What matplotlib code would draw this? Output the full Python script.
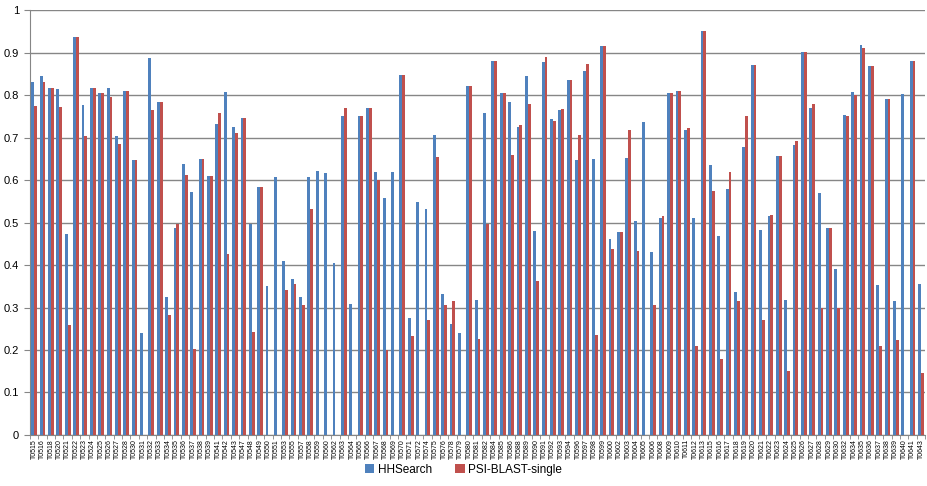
import numpy as np
import matplotlib
matplotlib.use("Agg")
import matplotlib.pyplot as plt
from matplotlib.ticker import FixedLocator

plt.rcParams["font.family"] = ["Liberation Sans", "DejaVu Sans"]

targets = ["T0515", "T0516", "T0518", "T0520", "T0521", "T0522", "T0523", "T0524",
           "T0525", "T0526", "T0527", "T0528", "T0530", "T0531", "T0532", "T0533",
           "T0534", "T0535", "T0536", "T0537", "T0538", "T0539", "T0541", "T0542",
           "T0543", "T0547", "T0548", "T0549", "T0550", "T0551", "T0553", "T0555",
           "T0557", "T0558", "T0559", "T0560", "T0562", "T0563", "T0564", "T0565",
           "T0566", "T0567", "T0568", "T0569", "T0570", "T0571", "T0572", "T0574",
           "T0575", "T0576", "T0578", "T0579", "T0580", "T0581", "T0582", "T0584",
           "T0585", "T0586", "T0588", "T0589", "T0590", "T0591", "T0592", "T0593",
           "T0594", "T0596", "T0597", "T0598", "T0599", "T0600", "T0602", "T0603",
           "T0604", "T0605", "T0606", "T0608", "T0609", "T0610", "T0611", "T0612",
           "T0613", "T0615", "T0616", "T0617", "T0618", "T0619", "T0620", "T0621",
           "T0622", "T0623", "T0624", "T0625", "T0626", "T0627", "T0628", "T0629",
           "T0630", "T0632", "T0634", "T0635", "T0636", "T0637", "T0638", "T0639",
           "T0640", "T0641", "T0643"]

hhsearch = [0.830, 0.845, 0.817, 0.815, 0.473, 0.937, 0.776, 0.817,
            0.805, 0.817, 0.703, 0.810, 0.648, 0.240, 0.888, 0.783,
            0.325, 0.487, 0.637, 0.572, 0.650, 0.610, 0.733, 0.808,
            0.726, 0.746, 0.497, 0.584, 0.351, 0.607, 0.410, 0.367,
            0.325, 0.607, 0.621, 0.617, 0.405, 0.750, 0.308, 0.750,
            0.770, 0.618, 0.558, 0.619, 0.848, 0.275, 0.549, 0.531,
            0.707, 0.333, 0.262, 0.240, 0.822, 0.318, 0.757, 0.880,
            0.805, 0.785, 0.725, 0.845, 0.480, 0.878, 0.745, 0.765,
            0.835, 0.648, 0.858, 0.650, 0.915, 0.462, 0.477, 0.652,
            0.503, 0.737, 0.430, 0.510, 0.805, 0.810, 0.718, 0.510,
            0.950, 0.635, 0.468, 0.580, 0.337, 0.678, 0.870, 0.482,
            0.515, 0.657, 0.318, 0.682, 0.902, 0.770, 0.570, 0.487,
            0.390, 0.753, 0.808, 0.918, 0.868, 0.353, 0.790, 0.315,
            0.802, 0.880, 0.355]

psiblast = [0.775, 0.830, 0.817, 0.773, 0.260, 0.937, 0.703, 0.817,
            0.805, 0.795, 0.685, 0.810, 0.648, 0.000, 0.765, 0.783,
            0.282, 0.497, 0.612, 0.203, 0.650, 0.610, 0.758, 0.425,
            0.710, 0.746, 0.243, 0.584, 0.000, 0.000, 0.341, 0.356,
            0.306, 0.533, 0.000, 0.000, 0.000, 0.770, 0.000, 0.750,
            0.770, 0.600, 0.200, 0.000, 0.848, 0.232, 0.000, 0.270,
            0.655, 0.305, 0.316, 0.000, 0.822, 0.227, 0.497, 0.880,
            0.805, 0.660, 0.730, 0.780, 0.362, 0.890, 0.738, 0.768,
            0.835, 0.707, 0.873, 0.235, 0.915, 0.438, 0.477, 0.718,
            0.433, 0.000, 0.305, 0.515, 0.805, 0.810, 0.722, 0.210,
            0.950, 0.574, 0.180, 0.618, 0.316, 0.750, 0.870, 0.270,
            0.518, 0.657, 0.150, 0.693, 0.902, 0.780, 0.300, 0.487,
            0.300, 0.750, 0.800, 0.912, 0.868, 0.210, 0.790, 0.223,
            0.000, 0.880, 0.145]

y_ticks = [0, 0.1, 0.2, 0.3, 0.4, 0.5, 0.6, 0.7, 0.8, 0.9, 1]
y_labels = ["0", "0.1", "0.2", "0.3", "0.4", "0.5", "0.6", "0.7", "0.8", "0.9", "1"]

BLUE = "#4F81BD"
RED = "#C0504D"
GRID = "#868686"

x = np.arange(len(targets))
w = 0.34

fig = plt.figure(figsize=(9.27, 4.86), dpi=100)
ax = fig.add_axes([0.0324, 0.105, 0.9656, 0.874])

ax.bar(x - w / 2, hhsearch, width=w, color=BLUE, label="HHSearch", zorder=3)
ax.bar(x + w / 2, psiblast, width=w, color=RED, label="PSI-BLAST-single", zorder=3)

ax.set_xlim(-0.5, len(targets) - 0.5)
ax.set_ylim(0, 1)
ax.set_yticks(y_ticks)
ax.set_yticklabels(y_labels)
ax.yaxis.grid(True, color=GRID, lw=1.0, zorder=0)
ax.tick_params(axis="y", labelsize=8, length=4, color=GRID, pad=4)

ax.set_xticks(x)
ax.set_xticklabels(targets, rotation=90, fontsize=5)
ax.tick_params(axis="x", which="major", length=0, pad=3)
ax.xaxis.set_minor_locator(FixedLocator(np.arange(-0.5, len(targets), 1.0)))
ax.tick_params(axis="x", which="minor", length=3, color=GRID)

for s in ("top", "right"):
    ax.spines[s].set_visible(False)
for s in ("left", "bottom"):
    ax.spines[s].set_color(GRID)

fig.legend(loc="center", bbox_to_anchor=(0.5, 0.033), ncol=2, frameon=False,
           fontsize=8.5, handlelength=0.8, handleheight=0.8, columnspacing=2.0,
           handletextpad=0.3)

fig.savefig("out.png", dpi=100)
